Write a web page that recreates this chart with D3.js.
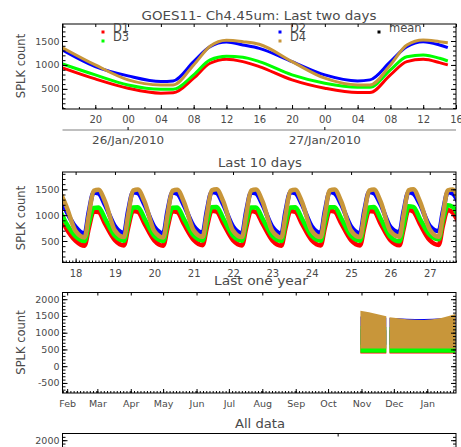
<!DOCTYPE html>
<html>
<head>
<meta charset="utf-8">
<script src="https://cdn.jsdelivr.net/npm/d3@7"></script>
<style>
  body { margin: 0; background: #fff; }
  text { font-family: "DejaVu Sans", sans-serif; fill: #4a4a4a; }
</style>
</head>
<body>
<div id="chart"></div>
<script>
// ---- data ----
const seriesNames = ["D1", "D2", "D3", "D4"];
const seriesColors = ["#ff0000", "#0000ff", "#00ff00", "#c8963a"];

// last two days: hours after 2010-01-25 16:00 UTC
const twoDayStart = "2010-01-25T16:00";
const twoDayEnd = "2010-01-27T16:00";
const twoDayHours = [0, 4, 8, 12, 13.5, 16, 18, 20, 22, 24, 28, 32, 36, 37.5, 40, 42, 44, 46, 47];
const twoDayD1 = [940, 708, 514, 410, 417, 723, 1035, 1120, 1069, 965, 688, 514, 423, 423, 792, 1069, 1118, 1049, 1000];
const twoDayD2 = [1310, 965, 771, 653, 667, 1069, 1382, 1480, 1417, 1347, 1069, 792, 667, 688, 1069, 1382, 1486, 1417, 1361];
const twoDayD3 = [1020, 792, 583, 494, 494, 792, 1104, 1180, 1160, 1069, 792, 619, 535, 535, 896, 1173, 1208, 1139, 1083];
const twoDayD4 = [1360, 1000, 688, 583, 583, 1000, 1390, 1515, 1486, 1431, 1069, 723, 583, 583, 1000, 1417, 1521, 1486, 1465];

// last 10 days: one row per date, values at the clock hours below
const tenDayStart = "2010-01-17T16:00";
const tenDayEnd = "2010-01-27T16:00";
const tenDayDates = ["2010-01-17", "2010-01-18", "2010-01-19", "2010-01-20", "2010-01-21", "2010-01-22",
  "2010-01-23", "2010-01-24", "2010-01-25", "2010-01-26", "2010-01-27"];
const tenDayClock = [0, 5.5, 8, 11, 14, 18];
const tenDayD1 = [
  [514, 420, 750, 1070, 1010, 760], [505, 410, 740, 1070, 1060, 830], [515, 415, 750, 1080, 1065, 835],
  [510, 410, 745, 1075, 1060, 830], [520, 420, 755, 1085, 1070, 840], [515, 415, 750, 1080, 1060, 835],
  [510, 410, 750, 1080, 1065, 835], [515, 415, 755, 1085, 1065, 840], [515, 415, 750, 1080, 1070, 835],
  [514, 417, 723, 1100, 1069, 830], [514, 423, 792, 1100, 1049, 830]];
const tenDayD2 = [
  [780, 660, 1070, 1430, 1380, 1100], [770, 640, 1060, 1440, 1420, 1190], [785, 655, 1080, 1445, 1425, 1200],
  [775, 650, 1070, 1440, 1415, 1195], [790, 660, 1075, 1450, 1430, 1205], [780, 650, 1065, 1440, 1420, 1200],
  [775, 645, 1070, 1445, 1425, 1210], [785, 655, 1075, 1450, 1420, 1205], [780, 650, 1070, 1450, 1425, 1210],
  [771, 667, 1069, 1445, 1417, 1210], [792, 688, 1069, 1445, 1417, 1200]];
const tenDayD3 = [
  [600, 510, 840, 1150, 1100, 860], [590, 500, 830, 1140, 1150, 930], [600, 505, 840, 1150, 1155, 935],
  [595, 500, 835, 1145, 1150, 930], [605, 510, 845, 1155, 1160, 940], [600, 505, 840, 1150, 1150, 935],
  [595, 500, 840, 1150, 1155, 935], [600, 505, 845, 1155, 1155, 940], [600, 505, 840, 1150, 1160, 935],
  [583, 494, 800, 1170, 1160, 930], [619, 535, 896, 1190, 1160, 930]];
const tenDayD4 = [
  [700, 580, 1000, 1480, 1450, 1200], [690, 570, 990, 1470, 1490, 1260], [700, 575, 1000, 1475, 1495, 1265],
  [695, 570, 995, 1470, 1490, 1260], [705, 580, 1005, 1480, 1500, 1270], [700, 575, 1000, 1475, 1495, 1265],
  [695, 570, 1000, 1470, 1490, 1260], [700, 575, 1005, 1480, 1495, 1265], [700, 575, 1000, 1475, 1495, 1265],
  [688, 583, 1000, 1480, 1500, 1265], [723, 583, 1000, 1480, 1495, 1260]];

// last one year: daily low / high envelope, null = no data
const yearStart = "2009-01-27T16:00";
const yearEnd = "2010-01-27T16:00";
const yearDates = ["2009-10-31", "2009-11-08", "2009-11-16", "2009-11-24", "2009-11-25", "2009-11-27",
  "2009-12-05", "2009-12-13", "2009-12-21", "2009-12-29", "2010-01-06", "2010-01-14", "2010-01-21", "2010-01-27"];
const yearD1Low  = [382, 382, 382, 382, null, 382, 382, 382, 382, 382, 382, 382, 382, 382];
const yearD1High = [1100, 1090, 1080, 1070, null, 1070, 1080, 1080, 1090, 1090, 1100, 1100, 1110, 1120];
const yearD2Low  = [640, 640, 640, 640, null, 640, 640, 640, 640, 640, 640, 640, 640, 640];
const yearD2High = [1480, 1470, 1460, 1450, null, 1440, 1430, 1420, 1410, 1410, 1420, 1430, 1450, 1470];
const yearD3Low  = [400, 400, 400, 400, null, 400, 400, 400, 400, 400, 400, 400, 400, 400];
const yearD3High = [1200, 1190, 1180, 1170, null, 1170, 1180, 1180, 1190, 1190, 1200, 1200, 1210, 1220];
const yearD4Low  = [530, 530, 530, 530, null, 530, 530, 530, 530, 530, 530, 530, 530, 530];
const yearD4High = [1656, 1610, 1550, 1488, null, 1459, 1430, 1405, 1385, 1382, 1400, 1440, 1500, 1559];

// all data
const allStart = "2009-10-31T00:00";
const allEnd = "2010-01-27T16:00";

// ---- drawing ----
const W = 461, H = 447;
const X0 = 62.5, X1 = 456;
const hour = 3600e3;
const parseT = d3.utcParse("%Y-%m-%dT%H:%M");
const parseD = d3.utcParse("%Y-%m-%d");

const svg = d3.select("#chart").append("svg")
  .attr("width", W).attr("height", H);

const num = d => String(d);

function drawPanel(p) {
  const { x, y, top, bottom } = p;
  const clipId = "clip-" + p.id;
  svg.append("clipPath").attr("id", clipId)
    .append("rect").attr("x", X0).attr("y", top).attr("width", X1 - X0).attr("height", bottom - top);

  const data = svg.append("g").attr("clip-path", `url(#${clipId})`);

  const axes = svg.append("g").attr("color", "#000");
  // left
  axes.append("g").attr("transform", `translate(${X0},0)`)
    .call(d3.axisLeft(y).tickValues(p.yMinor).tickSize(-3).tickFormat(""))
    .call(g => g.select(".domain").remove());
  axes.append("g").attr("transform", `translate(${X0},0)`)
    .call(d3.axisLeft(y).tickValues(p.yMajor).tickSize(-5).tickPadding(3).tickFormat(num))
    .call(g => g.select(".domain").remove())
    .call(g => g.selectAll("text").style("font-size", "9.5px"));
  // right
  axes.append("g").attr("transform", `translate(${X1},0)`)
    .call(d3.axisRight(y).tickValues(p.yMinor).tickSize(-3).tickFormat(""))
    .call(g => g.select(".domain").remove());
  axes.append("g").attr("transform", `translate(${X1},0)`)
    .call(d3.axisRight(y).tickValues(p.yMajor).tickSize(-5).tickFormat(""))
    .call(g => g.select(".domain").remove());
  // bottom
  if (p.xMinor) {
    axes.append("g").attr("transform", `translate(0,${bottom})`)
      .call(d3.axisBottom(x).tickValues(p.xMinor).tickSize(-2).tickFormat(""))
      .call(g => g.select(".domain").remove());
  }
  axes.append("g").attr("transform", `translate(0,${bottom})`)
    .call(d3.axisBottom(x).tickValues(p.xMajor).tickSize(-4).tickPadding(7).tickFormat(p.xFormat))
    .call(g => g.select(".domain").remove())
    .call(g => g.selectAll("text").style("font-size", p.xFont || "10px"));
  // top
  axes.append("g").attr("transform", `translate(0,${top})`)
    .call(d3.axisTop(x).tickValues(p.xTop).tickSize(-3).tickFormat(""))
    .call(g => g.select(".domain").remove());

  // box
  axes.append("rect")
    .attr("x", X0).attr("y", top)
    .attr("width", X1 - X0).attr("height", bottom - top)
    .attr("fill", "none").attr("stroke", "#000").attr("stroke-width", 1);

  // y title
  svg.append("text")
    .attr("transform", `translate(21,${p.yTitleY}) rotate(-90)`)
    .attr("text-anchor", "middle").attr("dy", "0.35em")
    .style("font-size", "11.5px")
    .text("SPLK count");

  return data;
}

function title(txt, cx, base, len) {
  svg.append("text")
    .attr("x", cx).attr("y", base)
    .attr("text-anchor", "middle")
    .attr("textLength", len).attr("lengthAdjust", "spacingAndGlyphs")
    .style("font-size", "12.5px")
    .text(txt);
}

// ===== panel 1: last two days =====
{
  const x = d3.scaleUtc().domain([parseT(twoDayStart), parseT(twoDayEnd)]).range([X0, X1]);
  const y = d3.scaleLinear().domain([80, 1855]).range([109, 24]);
  const t0 = parseT(twoDayStart);
  const hourTicks = x.ticks(d3.utcHour.every(4));
  const g = drawPanel({
    id: "p1", x, y, top: 24, bottom: 109,
    yMajor: [500, 1000, 1500], yMinor: d3.range(100, 1900, 100),
    xMajor: hourTicks.filter(d => +d !== +t0), xMinor: x.ticks(d3.utcHour.every(2)),
    xTop: hourTicks, xFormat: d3.utcFormat("%H"),
    yTitleY: 66
  });
  const line = d3.line().x(d => x(d.t)).y(d => y(d.v)).curve(d3.curveMonotoneX);
  [twoDayD1, twoDayD2, twoDayD3, twoDayD4].forEach((vals, i) => {
    const pts = twoDayHours.map((h, k) => ({ t: new Date(+t0 + h * hour), v: vals[k] }));
    g.append("path").datum(pts)
      .attr("d", line).attr("fill", "none")
      .attr("stroke", seriesColors[i]).attr("stroke-width", 3);
  });

  // date axis under the hours
  const days = x.ticks(d3.utcDay.every(1));
  svg.append("line").attr("x1", X0).attr("x2", X1).attr("y1", 130).attr("y2", 130)
    .attr("stroke", "#aaa").attr("stroke-width", 1.5);
  svg.selectAll(".daytick").data(days).join("line")
    .attr("x1", d => x(d)).attr("x2", d => x(d)).attr("y1", 127).attr("y2", 130)
    .attr("stroke", "#000");
  svg.selectAll(".daylab").data(days).join("text")
    .attr("x", d => x(d)).attr("y", 144)
    .attr("text-anchor", "middle")
    .attr("textLength", 72).attr("lengthAdjust", "spacingAndGlyphs")
    .style("font-size", "10.5px")
    .text(d3.utcFormat("%d/%b/%Y"));

  // legend
  const legend = [
    { name: seriesNames[0], color: seriesColors[0], x: 103, y: 32 },
    { name: seriesNames[2], color: seriesColors[2], x: 103, y: 41 },
    { name: seriesNames[1], color: seriesColors[1], x: 280, y: 32 },
    { name: seriesNames[3], color: seriesColors[3], x: 280, y: 41 },
    { name: "mean", color: "#000", x: 379, y: 32 }
  ];
  legend.forEach(l => {
    svg.append("rect").attr("x", l.x - 1.5).attr("y", l.y - 1.5)
      .attr("width", 3).attr("height", 3).attr("fill", l.color);
    svg.append("text").attr("x", l.x + 10).attr("y", l.y)
      .style("font-size", "11.5px").text(l.name);
  });
}
title("GOES11- Ch4.45um: Last two days", 259, 20, 235);

// ===== panel 2: last 10 days =====
{
  const x = d3.scaleUtc().domain([parseT(tenDayStart), parseT(tenDayEnd)]).range([X0, X1]);
  const y = d3.scaleLinear().domain([84, 1835]).range([262.5, 172]);
  const g = drawPanel({
    id: "p2", x, y, top: 172, bottom: 262.5,
    yMajor: [500, 1000, 1500], yMinor: d3.range(100, 1900, 100),
    xMajor: x.ticks(d3.utcDay.every(1)), xMinor: x.ticks(d3.utcHour.every(2)),
    xTop: x.ticks(d3.utcDay.every(1)), xFormat: d3.utcFormat("%-d"),
    yTitleY: 218
  });
  const line = d3.line().x(d => x(d.t)).y(d => y(d.v)).curve(d3.curveMonotoneX);
  [tenDayD1, tenDayD2, tenDayD3, tenDayD4].forEach((rows, i) => {
    const pts = tenDayDates.flatMap((d, r) =>
      tenDayClock.map((c, k) => ({ t: new Date(+parseD(d) + c * hour), v: rows[r][k] })));
    g.append("path").datum(pts)
      .attr("d", line).attr("fill", "none")
      .attr("stroke", seriesColors[i]).attr("stroke-width", 4.5)
      .attr("stroke-linejoin", "round");
  });
}
title("Last 10 days", 260, 167, 84);

// ===== panel 3: last one year =====
{
  const x = d3.scaleUtc().domain([parseT(yearStart), parseT(yearEnd)]).range([X0, X1]);
  const y = d3.scaleLinear().domain([-800, 2200]).range([393, 292.5]);
  const g = drawPanel({
    id: "p3", x, y, top: 292.5, bottom: 393,
    yMajor: [-500, 0, 500, 1000, 1500, 2000], yMinor: d3.range(-700, 2200, 100),
    xMajor: x.ticks(d3.utcMonth.every(1)), xMinor: x.ticks(d3.utcDay.every(3)),
    xTop: x.ticks(d3.utcMonth.every(1)), xFormat: d3.utcFormat("%b"), xFont: "9.5px",
    yTitleY: 342.5
  });
  const band = d3.area().defined(d => d.lo != null)
    .x(d => x(d.t)).y0(d => y(d.lo)).y1(d => y(d.hi));
  const lows = [yearD1Low, yearD2Low, yearD3Low, yearD4Low];
  const highs = [yearD1High, yearD2High, yearD3High, yearD4High];
  lows.forEach((lo, i) => {
    const pts = yearDates.map((d, k) => ({ t: parseD(d), lo: lo[k], hi: highs[i][k] }));
    g.append("path").datum(pts).attr("d", band).attr("fill", seriesColors[i]);
  });
}
title("Last one year", 261, 285, 94);

// ===== panel 4: all data (cut by the page) =====
{
  const x = d3.scaleUtc().domain([parseT(allStart), parseT(allEnd)]).range([X0, X1]);
  const y = d3.scaleLinear().domain([-800, 2200]).range([534, 433.5]);
  drawPanel({
    id: "p4", x, y, top: 433.5, bottom: 534,
    yMajor: [-500, 0, 500, 1000, 1500, 2000], yMinor: d3.range(-700, 2200, 100),
    xMajor: x.ticks(d3.utcYear.every(1)), xMinor: null,
    xTop: x.ticks(d3.utcYear.every(1)), xFormat: d3.utcFormat("%Y"),
    yTitleY: 484
  });
}
title("All data", 260, 428, 50);
</script>
</body>
</html>
